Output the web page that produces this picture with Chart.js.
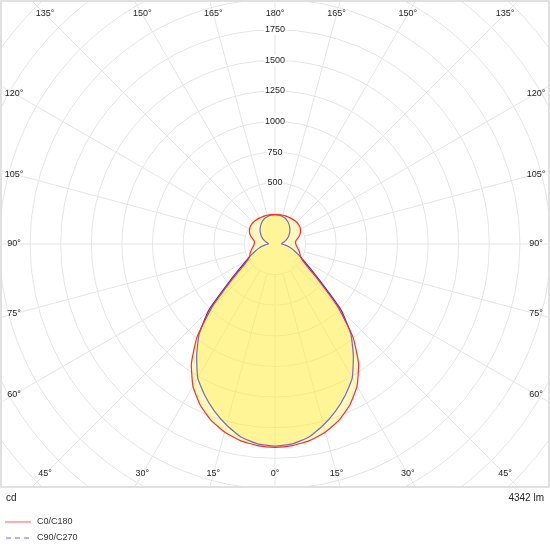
<!DOCTYPE html>
<html>
<head>
<meta charset="utf-8">
<script src="https://cdn.jsdelivr.net/npm/chart.js@4.4.1/dist/chart.umd.min.js"></script>
<style>
  body { margin: 0; background: #fff; font-family: "Liberation Sans", Arial, sans-serif; color: #222; }
  #plot { position: absolute; left: 0; top: 0; width: 550px; height: 488px; overflow: hidden; }
  #plot canvas { position: absolute; left: -128px; top: -159px; }
  #frame { position: absolute; left: 0; top: 0; width: 550px; height: 488px; box-sizing: border-box; border: 2px solid #e0e0e0; pointer-events: none; }
  .note { position: absolute; top: 491px; font-size: 10px; line-height: 14px; }
  .legend { position: absolute; left: 5px; font-size: 9px; line-height: 12px; color: #333; }
  .legend svg { vertical-align: middle; margin-right: 6px; }
</style>
</head>
<body>
<div id="plot"><canvas id="lvk" width="807" height="807"></canvas></div>
<div id="frame"></div>
<div class="note" style="left:6px">cd</div>
<div class="note" style="right:6px">4342 lm</div>
<div class="legend" style="top:515px"><svg width="26" height="4"><line x1="0" y1="2" x2="26" y2="2" stroke="#f88" stroke-width="1.4"/></svg>C0/C180</div>
<div class="legend" style="top:531px"><svg width="26" height="4"><line x1="1" y1="2" x2="26" y2="2" stroke="#99f" stroke-width="1.4" stroke-dasharray="5,4"/></svg>C90/C270</div>
<script>
// gamma angles (0 = straight down, 180 = straight up)
const gammaAngles = [0, 5, 10, 15, 20, 25, 30, 35, 40, 45, 50, 55, 60, 65, 70, 75, 80, 85, 90,
  95, 100, 105, 110, 115, 120, 125, 130, 135, 140, 145, 150, 155, 160, 165, 170, 175, 180];
// luminous intensity in cd
const c0c180 = [1660, 1652, 1630, 1590, 1530, 1448, 1340, 1190, 990, 725, 470, 325, 255, 228, 216, 202, 188, 177, 170,
  168, 176, 196, 215, 230, 240, 247, 250, 251, 250, 248, 246, 245, 244, 243, 242, 241, 240];
const c90c270 = [1650, 1638, 1600, 1530, 1450, 1360, 1262, 1115, 965, 765, 500, 355, 270, 215, 172, 138, 108, 80, 55,
  55, 68, 82, 98, 113, 128, 143, 158, 172, 185, 198, 210, 220, 228, 233, 237, 239, 240];
const spokeAngles = [0, 15, 30, 45, 60, 75, 90, 105, 120, 135, 150, 165, 180];
const ringLabels = [500, 750, 1000, 1250, 1500, 1750];
const ringStep = 250;
const ringMax = 3250;

// radar positions, clockwise from the top: 180 .. 0 on the right, 5 .. 175 on the left
const positions = [];
for (let i = 0; i < 72; i++) positions.push(i <= 36 ? 180 - 5 * i : 5 * i - 180);
const valueAt = (arr, g) => arr[gammaAngles.indexOf(g)];

const fontFamily = '"Liberation Sans", Arial, sans-serif';

const polarGrid = {
  id: 'polarGrid',
  beforeDraw(chart) {
    const r = chart.scales.r;
    const ctx = chart.ctx;
    const inner = r.getDistanceFromCenterForValue(ringStep);
    ctx.save();
    ctx.strokeStyle = '#e5e5e5';
    ctx.lineWidth = 1;
    positions.forEach((g, i) => {
      if (!spokeAngles.includes(g)) return;
      const a = r.getPointPosition(i, inner);
      const b = r.getPointPosition(i, r.drawingArea);
      ctx.beginPath();
      ctx.moveTo(a.x, a.y);
      ctx.lineTo(b.x, b.y);
      ctx.stroke();
    });
    ctx.restore();
  },
  afterDraw(chart) {
    const r = chart.scales.r;
    const ctx = chart.ctx;
    ctx.save();
    ctx.font = '9px ' + fontFamily;
    ctx.fillStyle = '#222';
    ctx.textAlign = 'center';
    ctx.textBaseline = 'middle';
    positions.forEach((g, i) => {
      if (!spokeAngles.includes(g)) return;
      const p = r.getPointPosition(i, 1);
      const ux = p.x - r.xCenter, uy = p.y - r.yCenter;
      const t = Math.min(Math.abs(ux) > 1e-6 ? 261 / Math.abs(ux) : Infinity,
                         Math.abs(uy) > 1e-6 ? 230 / Math.abs(uy) : Infinity);
      ctx.fillText(g + '°', r.xCenter + ux * t, r.yCenter + uy * t);
    });
    ctx.restore();
  }
};

const ctx = document.getElementById('lvk').getContext('2d');
new Chart(ctx, {
  type: 'radar',
  data: {
    labels: positions.map(g => g + '°'),
    datasets: [{
      label: 'C0/C180',
      data: positions.map(g => valueAt(c0c180, g)),
      borderColor: '#ff2a2a',
      backgroundColor: 'rgba(255, 236, 70, 0.34)',
      fill: 'origin',
      borderWidth: 1.2,
      pointRadius: 0,
      tension: 0.15,
    }, {
      label: 'C90/C270',
      data: positions.map(g => valueAt(c90c270, g)),
      borderColor: '#2a2aff',
      backgroundColor: 'rgba(255, 236, 70, 0.34)',
      fill: 'origin',
      borderWidth: 1.2,
      pointRadius: 0,
      tension: 0.15,
    }],
  },
  options: {
    responsive: false,
    animation: false,
    plugins: { legend: { display: false }, tooltip: { enabled: false } },
    layout: { padding: 0 },
    scales: {
      r: {
        min: 0,
        max: ringMax,
        grid: { circular: true, color: '#e5e5e5', lineWidth: 1 },
        angleLines: { display: false },
        pointLabels: { display: false },
        ticks: {
          stepSize: ringStep,
          color: '#222',
          font: { size: 9, family: fontFamily },
          backdropColor: '#fff',
          backdropPadding: 1,
          showLabelBackdrop: c => ringLabels.includes(c.tick.value),
          callback: v => ringLabels.includes(v) ? String(v) : '',
        },
      },
    },
  },
  plugins: [polarGrid],
});
</script>
</body>
</html>
